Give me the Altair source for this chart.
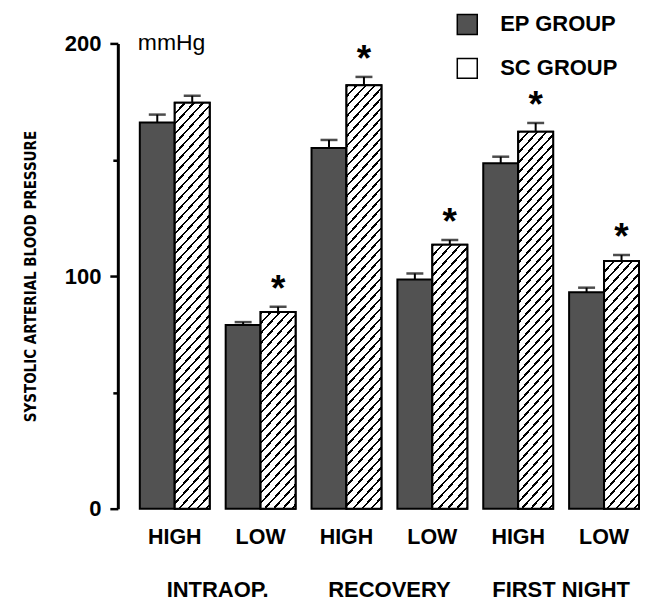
import math
import altair as alt
import pandas as pd

# ---------------- data ----------------
periods = ["INTRAOP.", "RECOVERY", "FIRST NIGHT"]
levels = ["HIGH", "LOW"]
groups = ["EP GROUP", "SC GROUP"]

ep_mean = [166.0, 79.0, 155.0, 98.5, 148.5, 93.0]
ep_err = [3.4, 1.2, 3.5, 2.6, 2.8, 2.0]
sc_mean = [174.5, 84.5, 182.0, 113.5, 162.0, 106.5]
sc_err = [3.0, 2.3, 3.6, 2.0, 3.8, 2.5]
sc_sig = [False, True, True, True, True, True]

keys = [f"{p}|{l}" for p in periods for l in levels]

rows = []
for i, k in enumerate(keys):
    rows.append({"key": k, "group": "EP GROUP", "mean": ep_mean[i], "err": ep_err[i], "sig": False})
    rows.append({"key": k, "group": "SC GROUP", "mean": sc_mean[i], "err": sc_err[i], "sig": sc_sig[i]})
df = pd.DataFrame(rows)
period_df = pd.DataFrame({"key": [f"{p}|HIGH" for p in periods], "label": periods})

# ---------------- layout / style ----------------
W, H = 522, 466
PI, PO = 0.186, 0.128
LAB = "Liberation Sans"
NARROW = "Liberation Sans Narrow, DejaVu Sans Condensed, Liberation Sans"

step = W / (len(keys) - PI + 2 * PO)
bar_w = step * (1 - PI) / 2


def hatch_gradient(value):
    """Diagonal hatch fill as a striped linear gradient (bbox units)."""
    w = bar_w
    h = value / 200.0 * H
    s = 1.1          # slope of hatch lines
    v = 10.0         # vertical spacing of hatch lines (px)
    a, b = s * w, h
    k = (a + b) / (a * a + b * b)
    x2, y2 = k * a, k * b
    extent = (s * w + h) / math.sqrt(1 + s * s)
    period = v / math.sqrt(1 + s * s)
    n = extent / period
    f = 1.7 / period
    stops = []
    j = 0
    while j / n < 1:
        o0 = j / n
        o1 = min((j + f) / n, 1)
        o2 = min((j + 1) / n, 1)
        stops += [
            {"offset": o0, "color": "black"},
            {"offset": o1, "color": "black"},
            {"offset": o1, "color": "white"},
            {"offset": o2, "color": "white"},
        ]
        j += 1
    return {"gradient": "linear", "x1": 0, "y1": 0, "x2": x2, "y2": y2, "stops": stops}


x_enc = alt.X(
    "key:N",
    sort=keys,
    scale=alt.Scale(domain=keys, paddingInner=PI, paddingOuter=PO, align=1),
    axis=alt.Axis(
        title=None, domain=False, ticks=False, labelAngle=0,
        labelExpr="split(datum.label, '|')[1]",
        labelFont=LAB, labelFontWeight="bold", labelFontSize=21.5,
        labelColor="black", labelPadding=18,
    ),
)
xo_enc = alt.XOffset("group:N", sort=groups, scale=alt.Scale(domain=groups))

y_axis = alt.Axis(
    values=[0, 50, 100, 150, 200],
    labelExpr="datum.value % 100 == 0 ? datum.label : ''",
    tickSize={"condition": {"test": "datum.value % 100 != 0", "value": 5}, "value": 8},
    tickWidth=2.5, tickColor="black",
    domainWidth=3, domainColor="black",
    grid=False,
    labelFont=LAB, labelFontWeight="bold", labelFontSize=22, labelColor="black",
    labelPadding=9,
    title="SYSTOLIC ARTERIAL BLOOD PRESSURE",
    titleFont=NARROW, titleFontSize=15, titleFontWeight="bold", titleColor="black",
    titlePadding=26,
)

base = alt.Chart(df)

bars = base.mark_bar(stroke="black", strokeWidth=2).encode(
    x=x_enc,
    xOffset=xo_enc,
    y=alt.Y("mean:Q", scale=alt.Scale(domain=[0, 200]), axis=y_axis),
    fill=alt.Fill(
        "group:N",
        scale=alt.Scale(domain=groups, range=["#525252", "white"]),
        legend=alt.Legend(
            title=None, orient="none", legendX=339, legendY=-30,
            symbolType="square", symbolSize=400,
            symbolStrokeColor="black", symbolStrokeWidth=1.5,
            labelFont=LAB, labelFontWeight="bold", labelFontSize=22,
            labelColor="black", labelOffset=22, rowPadding=18, padding=0,
        ),
    ),
)

hatches = []
for i, k in enumerate(keys):
    hatches.append(
        base.transform_filter(
            f"datum.key == '{k}' && datum.group == 'SC GROUP'"
        ).mark_bar(fill=hatch_gradient(sc_mean[i]), stroke="black", strokeWidth=2).encode(
            x=x_enc, xOffset=xo_enc, y=alt.Y("mean:Q")
        )
    )

err_base = base.transform_calculate(top="datum.mean + datum.err")

err_rule = err_base.mark_rule(color="black", strokeWidth=2).encode(
    x=x_enc, xOffset=xo_enc, y=alt.Y("mean:Q"), y2="top:Q"
)
err_cap = err_base.mark_tick(color="black", thickness=2.5, size=17).encode(
    x=x_enc, xOffset=xo_enc, y=alt.Y("top:Q")
)
stars = err_base.transform_filter("datum.sig").mark_text(
    text="*", fontSize=37, fontWeight="bold", font=LAB, baseline="alphabetic", dy=-6, color="black"
).encode(x=x_enc, xOffset=xo_enc, y=alt.Y("top:Q"))

unit = alt.Chart(pd.DataFrame({"t": ["mmHg"]})).mark_text(
    align="left", baseline="middle", fontSize=23, font=LAB, color="black"
).encode(x=alt.value(20), y=alt.datum(200), text="t:N")

period_text = alt.Chart(period_df).mark_text(
    align="center", baseline="middle", fontSize=22, font=LAB, fontWeight="bold",
    color="black", dx=step / 2,
).encode(x=x_enc, y=alt.value(H + 81), text="label:N")

chart = (
    alt.layer(bars, *hatches, err_rule, err_cap, stars, unit, period_text)
    .properties(
        width=W, height=H,
        padding={"left": 15, "top": 5, "right": 0, "bottom": 0},
        background="white",
    )
    .configure_view(stroke=None)
)

chart.save("out.html", embed_options={"renderer": "svg", "actions": False})
